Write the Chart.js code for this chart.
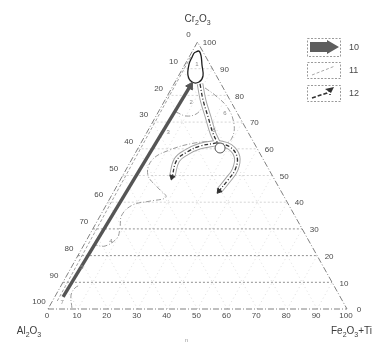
<!DOCTYPE html>
<html>
<head>
<meta charset="utf-8">
<script src="https://cdn.jsdelivr.net/npm/chart.js@4.4.1/dist/chart.umd.min.js"></script>
<style>
  html, body { margin: 0; padding: 0; background: #fff; }
  canvas { display: block; }
</style>
</head>
<body>
<canvas id="ternChart" width="372" height="347"></canvas>
<script>
// all compositions given as Fe2O3+Ti % and Cr2O3 % (Al2O3 = the rest)
const tickValues = [0, 10, 20, 30, 40, 50, 60, 70, 80, 90, 100];

const frameFe = [0, 100, 0, 0];
const frameCr = [0, 0, 100, 0];

const arrow10Fe = [2.8, 5.8];
const arrow10Cr = [4.5, 83.5];

const guideFe = [1.6, 0.5];
const guideCr = [3, 95];

const zone1Fe = [0.9, 2.2, 3.8, 5.8, 8.2, 8.0, 5.7, 3.0, 1.3, 1.0, 0.9];
const zone1Cr = [95.9, 96.6, 94.8, 91.4, 87.3, 85.0, 85.0, 87.6, 91.8, 94.4, 95.9];

const path12DownFe = [8.7, 12.7, 17.6, 22.2, 25.3];
const path12DownCr = [84.3, 78.3, 71.9, 65.9, 62.5];
const path12LeftFe = [25.4, 20.3, 17.1, 15.2, 16.8];
const path12LeftCr = [62.2, 61.0, 58.8, 55.8, 49.4];
const path12RightFe = [25.4, 30.5, 34.8, 36.5, 36.0, 35.1];
const path12RightCr = [62.2, 60.7, 56.9, 52.1, 48.3, 44.2];

const contourAFe = [5.9, 10.0, 13.0, 14.0];
const contourACr = [73.8, 72.3, 73.0, 75.7];
const contourBFe = [25.1, 18.1, 11.0, 6.9, 8.3, 14.2, 18.5, 13.9, 8.9, 7.1, 8.9, 9.8, 7.3, 3.7];
const contourBCr = [62.9, 62.2, 59.6, 55.8, 50.2, 45.3, 41.9, 40.4, 39.0, 35.2, 30.3, 26.6, 23.6, 24.0];
const contourCFe = [11.1, 15.8, 22.5, 27.8, 29.5, 28.5];
const contourCCr = [82.8, 80.1, 75.3, 68.9, 64.0, 61.4];
const contourDFe = [7.8, 5.1, 5.1, 6.2];
const contourDCr = [0.4, 5.2, 7.9, 9.0];

const junctionFe = [27.4];
const junctionCr = [60.3];

const zoneLabels = ['1', '2', '3', '6', '8', '4', '5', '7'];
const zoneLabelFe = [3.9, 9.1, 7.0, 22.5, 22.0, 8.3, 3.5, 3.4];
const zoneLabelCr = [91.8, 77.5, 66.3, 73.4, 67.0, 25.5, 15.7, 2.6];

const legendItems = ['10', '11', '12'];

// ternary -> plot coords: x = Fe + Cr/2, y = Cr
function pts(fe, cr) {
    return fe.map((f, i) => ({ x: f + cr[i] / 2, y: cr[i] }));
}
function lastPt(fe, cr) {
    const n = fe.length - 1;
    return pts([fe[n]], [cr[n]]);
}
function line(fe, cr, opts) {
    return Object.assign({
        data: pts(fe, cr),
        showLine: true,
        pointRadius: 0,
        fill: false,
        clip: false,
        tension: 0
    }, opts);
}
function arrowHead(fe, cr, rot, r, color, order) {
    return {
        data: lastPt(fe, cr),
        pointStyle: 'triangle',
        rotation: rot,
        pointRadius: r,
        backgroundColor: color,
        borderColor: color,
        borderWidth: 1,
        clip: false,
        order: order
    };
}

const tube = (fe, cr, order) => [
    line(fe, cr, { borderColor: '#a2a2a2', borderWidth: 6.5, tension: 0.4, order: order + 2 }),
    line(fe, cr, { borderColor: '#ffffff', borderWidth: 4.6, tension: 0.4, order: order + 1 }),
    line(fe, cr, { borderColor: '#303030', borderWidth: 1.3, borderDash: [4, 2, 1, 2], tension: 0.4, order: order })
];

const contourStyle = { borderColor: '#9a9a9a', borderWidth: 1, borderDash: [5, 2, 1, 2], tension: 0.4, order: 40 };

const datasets = [
    line(frameFe, frameCr, { borderColor: '#808080', borderWidth: 1, borderDash: [6, 2, 1, 2], order: 50 }),
    line(guideFe, guideCr, { borderColor: '#a0a0a0', borderWidth: 1, borderDash: [3, 2], order: 45 }),
    line(contourAFe, contourACr, contourStyle),
    line(contourBFe, contourBCr, contourStyle),
    line(contourCFe, contourCCr, contourStyle),
    line(contourDFe, contourDCr, contourStyle),
    ...tube(path12DownFe, path12DownCr, 20),
    ...tube(path12LeftFe, path12LeftCr, 20),
    ...tube(path12RightFe, path12RightCr, 20),
    arrowHead(path12LeftFe, path12LeftCr, 196, 3, '#303030', 5),
    arrowHead(path12RightFe, path12RightCr, 219, 3, '#303030', 5),
    {
        data: pts(junctionFe, junctionCr),
        pointRadius: 5,
        pointStyle: 'circle',
        backgroundColor: '#ffffff',
        borderColor: '#555555',
        borderWidth: 1,
        clip: false,
        order: 6
    },
    line(zone1Fe, zone1Cr, { borderColor: '#1e1e1e', borderWidth: 1.3, tension: 0.35, order: 8 }),
    line(arrow10Fe, arrow10Cr, { borderColor: '#555555', borderWidth: 3.4, order: 4 }),
    arrowHead(arrow10Fe, arrow10Cr, 31, 4.5, '#555555', 3)
];

const labelColor = '#4a4a4a';

function chem(ctx, parts, x, y, size, align) {
    // parts: [text, isSubscript]
    let w = 0;
    parts.forEach(p => {
        ctx.font = (p[1] ? size * 0.7 : size) + 'px "Liberation Sans", Arial, sans-serif';
        w += ctx.measureText(p[0]).width;
    });
    let cx = align === 'center' ? x - w / 2 : (align === 'right' ? x - w : x);
    ctx.textAlign = 'left';
    ctx.textBaseline = 'alphabetic';
    parts.forEach(p => {
        ctx.font = (p[1] ? size * 0.7 : size) + 'px "Liberation Sans", Arial, sans-serif';
        ctx.fillText(p[0], cx, y + (p[1] ? size * 0.25 : 0));
        cx += ctx.measureText(p[0]).width;
    });
}

const ternaryPlugin = {
    id: 'ternary',
    beforeDatasetsDraw(chart) {
        const ctx = chart.ctx;
        const xs = chart.scales.x, ys = chart.scales.y;
        const P = (fe, cr) => [xs.getPixelForValue(fe + cr / 2), ys.getPixelForValue(cr)];
        ctx.save();
        ctx.lineWidth = 1;
        tickValues.slice(1, -1).forEach(v => {
            // constant Cr (horizontal)
            ctx.setLineDash([2, 2]);
            ctx.strokeStyle = v <= 30 ? 'rgba(110,110,110,0.75)' : 'rgba(150,150,150,0.4)';
            let a = P(0, v), b = P(100 - v, v);
            ctx.beginPath(); ctx.moveTo(a[0], a[1]); ctx.lineTo(b[0], b[1]); ctx.stroke();
            // constant Fe and constant Al
            ctx.setLineDash([1, 3]);
            ctx.strokeStyle = 'rgba(160,160,160,0.35)';
            a = P(v, 0); b = P(v, 100 - v);
            ctx.beginPath(); ctx.moveTo(a[0], a[1]); ctx.lineTo(b[0], b[1]); ctx.stroke();
            a = P(100 - v, 0); b = P(0, 100 - v);
            ctx.beginPath(); ctx.moveTo(a[0], a[1]); ctx.lineTo(b[0], b[1]); ctx.stroke();
        });
        ctx.restore();
    },
    afterDraw(chart) {
        const ctx = chart.ctx;
        const xs = chart.scales.x, ys = chart.scales.y;
        const P = (fe, cr) => [xs.getPixelForValue(fe + cr / 2), ys.getPixelForValue(cr)];
        ctx.save();
        ctx.fillStyle = labelColor;
        ctx.font = '8px "Liberation Sans", Arial, sans-serif';
        ctx.textAlign = 'center';
        ctx.textBaseline = 'middle';
        tickValues.forEach(t => {
            let p = P(t, 0);
            ctx.fillText(String(t), p[0] - 1, p[1] + 7);       // Fe2O3+Ti
            p = P(0, 100 - t);
            ctx.fillText(String(t), p[0] - 9, p[1] - 7);       // Al2O3
            p = P(100 - t, t);
            ctx.fillText(String(t), p[0] + 12, p[1] + 1);      // Cr2O3
        });

        // small zone numbers
        ctx.fillStyle = '#8a8a8a';
        ctx.font = '6px "Liberation Sans", Arial, sans-serif';
        zoneLabels.forEach((z, i) => {
            const p = P(zoneLabelFe[i], zoneLabelCr[i]);
            ctx.fillText(z, p[0], p[1]);
        });

        // apex titles
        ctx.fillStyle = '#3c3c3c';
        const top = P(0, 100), left = P(0, 0), right = P(100, 0);
        chem(ctx, [['Cr', 0], ['2', 1], ['O', 0], ['3', 1]], top[0], top[1] - 20, 10, 'center');
        chem(ctx, [['Al', 0], ['2', 1], ['O', 0], ['3', 1]], left[0] - 19, left[1] + 25, 10, 'center');
        chem(ctx, [['Fe', 0], ['2', 1], ['O', 0], ['3', 1], ['+Ti', 0]], right[0] - 16, right[1] + 25, 10, 'left');
        ctx.fillStyle = '#9a9a9a';
        ctx.font = '6px "Liberation Sans", Arial, sans-serif';
        ctx.textAlign = 'center';
        ctx.fillText('n', (left[0] + right[0]) / 2 - 11, left[1] + 33);

        // legend boxes
        const bx = 307, bw = 33;
        const boxes = [[38, 18], [62, 16], [85, 16]];
        boxes.forEach((b, i) => {
            ctx.setLineDash([2, 1.5]);
            ctx.strokeStyle = '#9a9a9a';
            ctx.lineWidth = 1;
            ctx.strokeRect(bx + 0.5, b[0] + 0.5, bw, b[1]);
            ctx.setLineDash([]);
            ctx.fillStyle = labelColor;
            ctx.font = '9px "Liberation Sans", Arial, sans-serif';
            ctx.textAlign = 'left';
            ctx.textBaseline = 'middle';
            ctx.fillText(legendItems[i], 349, b[0] + b[1] / 2 + 1);
        });
        // 10: thick arrow
        ctx.fillStyle = '#5e5e5e';
        ctx.beginPath();
        ctx.moveTo(310, 42); ctx.lineTo(327, 42); ctx.lineTo(327, 40);
        ctx.lineTo(339, 47); ctx.lineTo(327, 54); ctx.lineTo(327, 52);
        ctx.lineTo(310, 52); ctx.closePath(); ctx.fill();
        // 11: thin gray dashed
        ctx.strokeStyle = '#a8a8a8';
        ctx.lineWidth = 1;
        ctx.setLineDash([3, 2]);
        ctx.beginPath(); ctx.moveTo(312, 75); ctx.lineTo(335, 66); ctx.stroke();
        // 12: dark dashed with arrow
        ctx.strokeStyle = '#333';
        ctx.lineWidth = 1.6;
        ctx.setLineDash([4, 2]);
        ctx.beginPath(); ctx.moveTo(312, 98); ctx.lineTo(327, 93); ctx.lineTo(330, 90); ctx.lineTo(330, 95); ctx.stroke();
        ctx.setLineDash([]);
        ctx.fillStyle = '#333';
        ctx.beginPath(); ctx.moveTo(325, 89); ctx.lineTo(334, 87); ctx.lineTo(331, 93); ctx.closePath(); ctx.fill();
        ctx.restore();
    }
};

new Chart(document.getElementById('ternChart').getContext('2d'), {
    type: 'scatter',
    data: { datasets: datasets },
    options: {
        responsive: false,
        animation: false,
        devicePixelRatio: 1,
        layout: { padding: { left: 48, right: 25, top: 42, bottom: 38 } },
        plugins: { legend: { display: false }, tooltip: { enabled: false } },
        scales: {
            x: { type: 'linear', min: 0, max: 100, display: false },
            y: { type: 'linear', min: 0, max: 100, display: false }
        }
    },
    plugins: [ternaryPlugin]
});
</script>
</body>
</html>
